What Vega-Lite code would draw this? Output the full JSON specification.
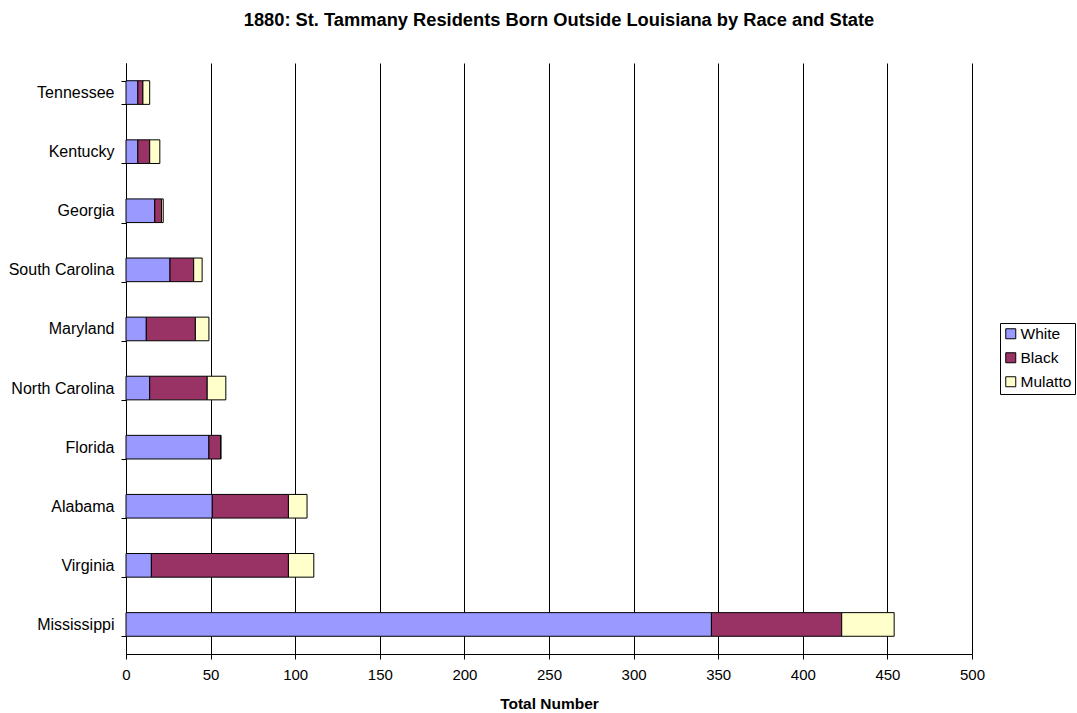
{
  "$schema": "https://vega.github.io/schema/vega-lite/v6.json",
  "width": 846,
  "height": 591,
  "autosize": "none",
  "padding": {"left": 126, "top": 63, "right": 105, "bottom": 59},
  "background": "white",
  "title": {
    "text": "1880: St. Tammany Residents Born Outside Louisiana by Race and State",
    "font": "Liberation Sans",
    "fontSize": 18.3,
    "fontWeight": "bold",
    "color": "black",
    "anchor": "middle",
    "dx": 10,
    "offset": 25
  },
  "data": {
    "values": [
      {"state": "Tennessee", "race": "White", "count": 7},
      {"state": "Tennessee", "race": "Black", "count": 3},
      {"state": "Tennessee", "race": "Mulatto", "count": 4},
      {"state": "Kentucky", "race": "White", "count": 7},
      {"state": "Kentucky", "race": "Black", "count": 7},
      {"state": "Kentucky", "race": "Mulatto", "count": 6},
      {"state": "Georgia", "race": "White", "count": 17},
      {"state": "Georgia", "race": "Black", "count": 4},
      {"state": "Georgia", "race": "Mulatto", "count": 1},
      {"state": "South Carolina", "race": "White", "count": 26},
      {"state": "South Carolina", "race": "Black", "count": 14},
      {"state": "South Carolina", "race": "Mulatto", "count": 5},
      {"state": "Maryland", "race": "White", "count": 12},
      {"state": "Maryland", "race": "Black", "count": 29},
      {"state": "Maryland", "race": "Mulatto", "count": 8},
      {"state": "North Carolina", "race": "White", "count": 14},
      {"state": "North Carolina", "race": "Black", "count": 34},
      {"state": "North Carolina", "race": "Mulatto", "count": 11},
      {"state": "Florida", "race": "White", "count": 49},
      {"state": "Florida", "race": "Black", "count": 7},
      {"state": "Florida", "race": "Mulatto", "count": 0},
      {"state": "Alabama", "race": "White", "count": 51},
      {"state": "Alabama", "race": "Black", "count": 45},
      {"state": "Alabama", "race": "Mulatto", "count": 11},
      {"state": "Virginia", "race": "White", "count": 15},
      {"state": "Virginia", "race": "Black", "count": 81},
      {"state": "Virginia", "race": "Mulatto", "count": 15},
      {"state": "Mississippi", "race": "White", "count": 346},
      {"state": "Mississippi", "race": "Black", "count": 77},
      {"state": "Mississippi", "race": "Mulatto", "count": 31}
    ]
  },
  "transform": [
    {"calculate": "indexof(['White', 'Black', 'Mulatto'], datum.race)", "as": "stackOrder"}
  ],
  "mark": {"type": "bar", "stroke": "black", "strokeWidth": 1, "strokeOpacity": 1},
  "encoding": {
    "y": {
      "field": "state",
      "type": "nominal",
      "sort": ["Tennessee", "Kentucky", "Georgia", "South Carolina", "Maryland", "North Carolina", "Florida", "Alabama", "Virginia", "Mississippi"],
      "scale": {"paddingInner": 0.6, "paddingOuter": 0.3},
      "axis": {
        "title": null,
        "tickBand": "extent",
        "grid": false,
        "domainColor": "black",
        "tickColor": "black",
        "tickSize": 5,
        "labelPadding": 7,
        "labelFont": "Liberation Sans",
        "labelFontSize": 16,
        "labelColor": "black"
      }
    },
    "x": {
      "field": "count",
      "type": "quantitative",
      "stack": "zero",
      "scale": {"domain": [0, 500], "nice": false},
      "axis": {
        "title": "Total Number",
        "values": [0, 50, 100, 150, 200, 250, 300, 350, 400, 450, 500],
        "grid": true,
        "gridColor": "black",
        "gridOpacity": 1,
        "domainColor": "black",
        "tickColor": "black",
        "tickSize": 5,
        "labelFlush": false,
        "labelPadding": 8,
        "labelFont": "Liberation Sans",
        "labelFontSize": 15,
        "labelColor": "black",
        "titleFont": "Liberation Sans",
        "titleFontSize": 15.5,
        "titleFontWeight": "bold",
        "titleColor": "black",
        "titlePadding": 14
      }
    },
    "order": {"field": "stackOrder", "type": "quantitative", "sort": "ascending"},
    "color": {
      "field": "race",
      "type": "nominal",
      "sort": ["White", "Black", "Mulatto"],
      "scale": {"domain": ["White", "Black", "Mulatto"], "range": ["#9999FF", "#993366", "#FFFFCC"]},
      "legend": {
        "title": null,
        "orient": "none",
        "legendX": 874,
        "legendY": 260,
        "strokeColor": "black",
        "padding": 3,
        "rowPadding": 7,
        "symbolType": "square",
        "symbolSize": 100,
        "symbolStrokeColor": "black",
        "symbolStrokeWidth": 1,
        "symbolOpacity": 1,
        "labelFont": "Liberation Sans",
        "labelFontSize": 15.5,
        "labelColor": "black",
        "labelOffset": 2
      }
    }
  },
  "config": {"view": {"stroke": null}}
}
